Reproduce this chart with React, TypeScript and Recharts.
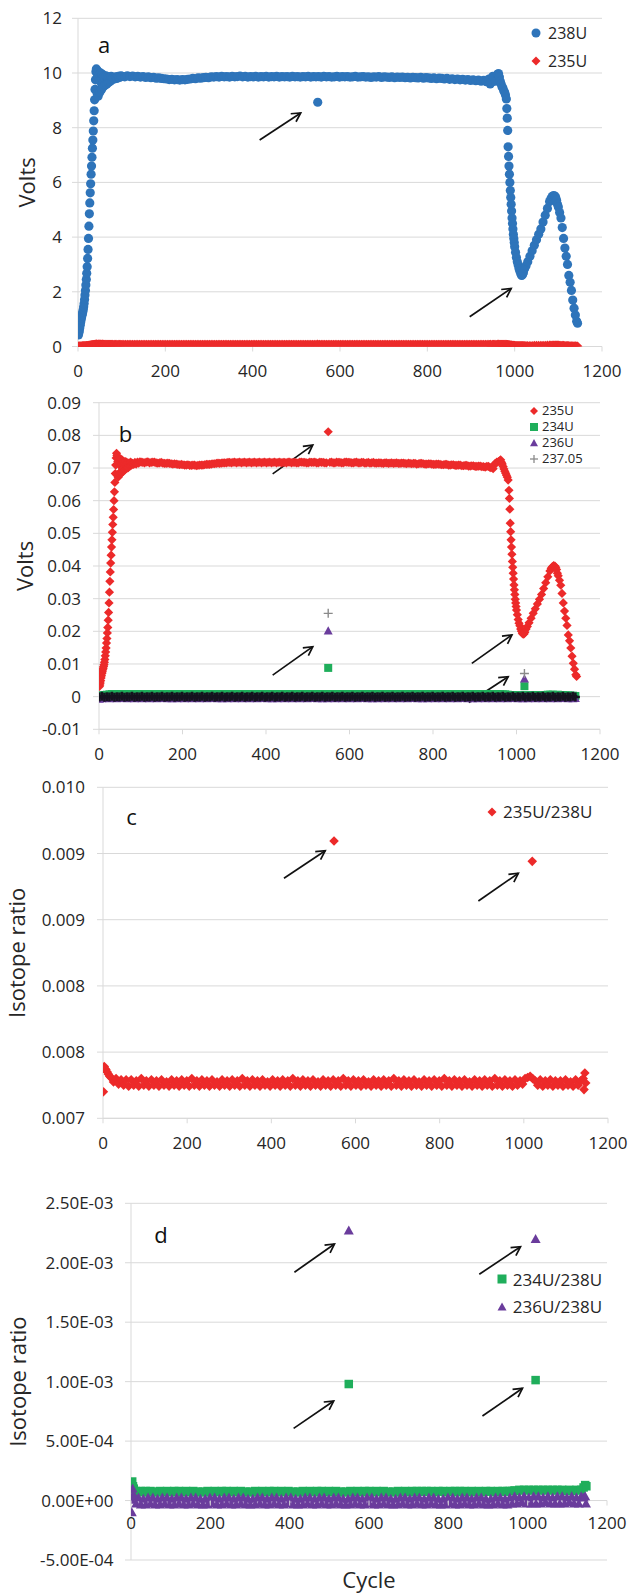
import React from 'react';
import { ScatterChart, Scatter, XAxis, YAxis, CartesianGrid, ReferenceLine, Legend } from 'recharts';

// ---------- data ----------
const X_TICKS = [0, 200, 400, 600, 800, 1000, 1200];
const A_TICKS = [0, 2, 4, 6, 8, 10, 12];
const B_TICKS = [-0.01, 0, 0.01, 0.02, 0.03, 0.04, 0.05, 0.06, 0.07, 0.08, 0.09];
const C_TICKS = [0.007, 0.0076, 0.0082, 0.0088, 0.0094, 0.01];
const D_TICKS = [-0.0005, 0, 0.0005, 0.001, 0.0015, 0.002, 0.0025];

// 238U signal, volts: [cycle, value]
const U238_VOLTS: [number, number][] = [
  [1,0.42],[2,0.5],[3,0.58],[4,0.68],[5,0.78],[6,0.88],[7,0.97],[8,1.05],[9,1.13],[10,1.2],
  [11,1.27],[12,1.35],[13,1.45],[14,1.57],[15,1.72],[16,1.88],[17,2.05],[18,2.25],[19,2.45],[20,2.68],
  [21,2.92],[22,3.22],[23,3.55],[24,3.95],[25,4.4],[26,4.85],[27,5.25],[28,5.62],[29,5.95],[30,6.3],
  [31,6.6],[32,6.92],[33,7.25],[34,7.55],[35,7.88],[36,8.25],[37,8.62],[38,9.02],[39,9.4],[40,9.75],
  [41,10.05],[42,10.15],[43,10.1],[44,9.25],[45,9.9],[46,9.15],[47,10.05],[48,9.35],[49,9.95],[50,9.3],
  [51,9.7],[52,10.0],[53,9.45],[54,9.4],[55,9.8],[56,9.95],[57,9.6],[58,9.5],[59,9.85],[60,9.9],
  [62,9.55],[64,9.9],[66,9.6],[68,9.85],[70,9.65],[72,9.85],[74,9.7],[76,9.88],[78,9.75],[80,9.82],
  [83,9.78],[86,9.86],[89,9.8],[92,9.88],[95,9.84],[98,9.9],
  [101,9.88],[107,9.86],[113,9.9],[119,9.87],[125,9.89],[131,9.86],[137,9.88],[143,9.85],[149,9.87],[155,9.84],
  [161,9.86],[167,9.83],[173,9.84],[179,9.81],[185,9.82],[191,9.8],[197,9.79],[203,9.78],[209,9.76],[215,9.77],
  [221,9.75],[227,9.76],[233,9.74],[239,9.76],[245,9.75],[251,9.77],[257,9.78],[263,9.8],[269,9.79],[275,9.82],
  [281,9.81],[287,9.83],[293,9.84],[299,9.83],[305,9.86],[311,9.85],[317,9.87],[323,9.85],[329,9.88],[335,9.86],
  [341,9.87],[347,9.85],[353,9.88],[359,9.86],[365,9.87],[371,9.89],[377,9.86],[383,9.88],[389,9.85],[395,9.87],
  [401,9.86],[407,9.88],[413,9.85],[419,9.87],[425,9.86],[431,9.88],[437,9.85],[443,9.87],[449,9.86],[455,9.88],
  [461,9.85],[467,9.87],[473,9.86],[479,9.87],[485,9.85],[491,9.88],[497,9.86],[503,9.87],[509,9.85],[515,9.87],
  [521,9.86],[527,9.88],[533,9.85],[539,9.87],[545,9.86],[551,9.87],[557,9.85],[563,9.88],[569,9.86],[575,9.87],
  [581,9.85],[587,9.86],[593,9.88],[599,9.85],[605,9.87],[611,9.86],[617,9.87],[623,9.85],[629,9.86],[635,9.88],
  [641,9.85],[647,9.86],[653,9.87],[659,9.85],[665,9.86],[671,9.84],[677,9.86],[683,9.85],[689,9.87],[695,9.84],
  [701,9.86],[707,9.85],[713,9.84],[719,9.86],[725,9.83],[731,9.85],[737,9.84],[743,9.85],[749,9.83],[755,9.84],
  [761,9.82],[767,9.84],[773,9.83],[779,9.82],[785,9.84],[791,9.81],[797,9.83],[803,9.82],[809,9.8],[815,9.82],
  [821,9.79],[827,9.81],[833,9.8],[839,9.78],[845,9.8],[851,9.77],[857,9.79],[863,9.76],[869,9.78],[875,9.75],
  [881,9.77],[887,9.74],[893,9.76],[899,9.73],[905,9.75],[911,9.72],[917,9.74],[923,9.7],[929,9.73],[935,9.68],
  [941,9.78],[947,9.66],[953,9.84],[959,9.9],
  [944,9.6],[950,9.88],[956,9.7],[961,9.95],[963,9.98],[965,9.85],[967,9.7],[969,9.6],[971,9.5],[973,9.45],
  [975,9.35],[977,9.3],[979,9.2],[981,9.05],[982,8.7],[983,8.35],[984,7.9],[985,7.3],[986,6.95],[987,6.6],
  [988,6.3],[989,6.0],[990,5.7],[991,5.45],[992,5.2],[993,4.95],[994,4.7],[995,4.5],[996,4.3],[997,4.1],
  [998,3.95],[999,3.8],[1000,3.65],[1002,3.45],[1004,3.25],[1006,3.1],[1008,2.98],[1010,2.85],[1012,2.75],[1014,2.66],
  [1016,2.6],[1018,2.62],[1020,2.7],[1023,2.85],[1026,2.95],[1030,3.1],[1035,3.3],[1040,3.5],[1045,3.7],[1050,3.9],
  [1055,4.1],[1060,4.3],[1065,4.55],[1070,4.8],[1075,5.05],[1080,5.3],[1083,5.4],[1086,5.48],[1089,5.52],[1092,5.5],
  [1094,5.45],[1096,5.35],[1098,5.2],[1100,5.1],[1103,4.9],[1106,4.7],[1109,4.35],[1112,3.95],[1115,3.6],[1118,3.3],
  [1121,3.0],[1124,2.6],[1127,2.35],[1130,2.05],[1133,1.7],[1136,1.4],[1139,1.15],[1142,0.92],[1144,0.85],
  [549,8.93],
];

// 235U signal, volts: [cycle, value]
const U235_VOLTS: [number, number][] = [
  [1,0.0031],[2,0.0036],[3,0.0042],[4,0.0049],[5,0.0057],[6,0.0064],[7,0.0071],[8,0.0076],[9,0.0082],[10,0.0087],
  [11,0.0092],[12,0.0098],[13,0.0105],[14,0.0114],[15,0.0125],[16,0.0137],[17,0.0149],[18,0.0164],[19,0.0178],[20,0.0195],
  [21,0.0212],[22,0.0234],[23,0.0258],[24,0.0287],[25,0.032],[26,0.0353],[27,0.0382],[28,0.0409],[29,0.0433],[30,0.0458],
  [31,0.048],[32,0.0503],[33,0.0527],[34,0.0549],[35,0.0573],[36,0.06],[37,0.0627],[38,0.0656],[39,0.0683],[40,0.0709],
  [41,0.0731],[42,0.0745],[43,0.0738],[44,0.0678],[45,0.072],[46,0.0672],[47,0.073],[48,0.0684],[49,0.0725],[50,0.068],
  [51,0.0706],[52,0.0728],[53,0.069],[54,0.0684],[55,0.0713],[56,0.0724],[57,0.0698],[58,0.069],[59,0.0716],[60,0.072],
  [62,0.0694],[64,0.072],[66,0.0698],[68,0.0716],[70,0.0701],[72,0.0716],[74,0.0706],[76,0.0718],[78,0.0709],[80,0.0714],
  [83,0.0711],[86,0.0717],[89,0.0712],[92,0.0718],[95,0.0715],[98,0.0719],
  [101,0.0718],[109,0.0716],[117,0.0719],[125,0.0717],[133,0.0718],[141,0.0715],[149,0.0717],[157,0.0714],[165,0.0715],[173,0.0713],
  [181,0.0713],[189,0.0711],[197,0.0711],[205,0.0709],[213,0.071],[221,0.0708],[229,0.0709],[237,0.0708],[245,0.0709],[253,0.071],
  [261,0.0711],[269,0.0712],[277,0.0713],[285,0.0715],[293,0.0715],[301,0.0716],[309,0.0717],[317,0.0716],[325,0.0718],[333,0.0717],
  [341,0.0716],[349,0.0718],[357,0.0717],[365,0.0716],[373,0.0718],[381,0.0717],[389,0.0716],[397,0.0718],[405,0.0717],[413,0.0716],
  [421,0.0718],[429,0.0717],[437,0.0716],[445,0.0717],[453,0.0718],[461,0.0716],[469,0.0717],[477,0.0716],[485,0.0718],[493,0.0717],
  [501,0.0716],[509,0.0717],[517,0.0718],[525,0.0716],[533,0.0717],[541,0.0716],[557,0.0718],[565,0.0716],[573,0.0717],[581,0.0716],
  [589,0.0718],[597,0.0717],[605,0.0716],[613,0.0717],[621,0.0716],[629,0.0717],[637,0.0715],[645,0.0717],[653,0.0716],[661,0.0715],
  [669,0.0716],[677,0.0715],[685,0.0716],[693,0.0714],[701,0.0716],[709,0.0715],[717,0.0714],[725,0.0715],[733,0.0714],[741,0.0715],
  [749,0.0713],[757,0.0714],[765,0.0713],[773,0.0714],[781,0.0712],[789,0.0713],[797,0.0712],[805,0.0711],[813,0.0712],[821,0.071],
  [829,0.0711],[837,0.0709],[845,0.071],[853,0.0708],[861,0.0709],[869,0.0707],[877,0.0708],[885,0.0706],[893,0.0707],[901,0.0705],
  [909,0.0706],[917,0.0704],[925,0.0703],[933,0.0705],[941,0.0702],[949,0.0714],[957,0.072],
  [105,0.0717],[113,0.0718],[121,0.0716],[129,0.0718],[137,0.0716],[145,0.0716],[153,0.0715],[161,0.0714],[169,0.0714],[177,0.0712],
  [185,0.0712],[193,0.071],[201,0.071],[209,0.0709],[217,0.0708],[225,0.0709],[233,0.0707],[241,0.0709],[249,0.0709],[257,0.0711],
  [265,0.0711],[273,0.0713],[281,0.0714],[289,0.0714],[297,0.0716],[305,0.0716],[313,0.0717],[321,0.0717],[329,0.0716],[337,0.0718],
  [345,0.0717],[353,0.0716],[361,0.0718],[369,0.0717],[377,0.0716],[385,0.0718],[393,0.0717],[401,0.0716],[409,0.0718],[417,0.0717],
  [425,0.0716],[433,0.0718],[441,0.0717],[449,0.0716],[457,0.0718],[465,0.0717],[473,0.0716],[481,0.0718],[489,0.0717],[497,0.0716],
  [505,0.0718],[513,0.0717],[521,0.0716],[529,0.0718],[537,0.0717],[545,0.0716],[553,0.0717],[561,0.0716],[569,0.0718],[577,0.0717],
  [585,0.0716],[593,0.0718],[601,0.0717],[609,0.0716],[617,0.0718],[625,0.0716],[633,0.0717],[641,0.0716],[649,0.0715],[657,0.0717],
  [665,0.0715],[673,0.0716],[681,0.0714],[689,0.0716],[697,0.0715],[705,0.0714],[713,0.0716],[721,0.0714],[729,0.0715],[737,0.0713],
  [745,0.0714],[753,0.0714],[761,0.0712],[769,0.0714],[777,0.0713],[785,0.0712],[793,0.0713],[801,0.0711],[809,0.0712],[817,0.0711],
  [825,0.071],[833,0.0711],[841,0.0709],[849,0.071],[857,0.0708],[865,0.0709],[873,0.0707],[881,0.0708],[889,0.0706],[897,0.0707],
  [905,0.0705],[913,0.0706],[921,0.0704],[929,0.0705],[937,0.0701],[945,0.0708],[953,0.0718],
  [944,0.0698],[952,0.0716],[960,0.0722],[962,0.0725],[964,0.0718],[966,0.0712],[968,0.0705],[970,0.0697],[972,0.069],[974,0.0684],
  [976,0.0678],[978,0.0672],[980,0.0663],[982,0.0632],[983,0.0607],[984,0.0574],[985,0.0531],[986,0.0505],[987,0.048],[988,0.0458],
  [989,0.0436],[990,0.0414],[991,0.0396],[992,0.0378],[993,0.036],[994,0.0342],[995,0.0327],[996,0.0313],[997,0.0298],[998,0.0287],
  [999,0.0276],[1000,0.0265],[1002,0.0251],[1004,0.0236],[1006,0.0225],[1008,0.0217],[1010,0.0207],[1012,0.02],[1014,0.0194],[1016,0.0191],
  [1018,0.0192],[1020,0.0197],[1023,0.0207],[1026,0.0215],[1030,0.0226],[1035,0.024],[1040,0.0255],[1045,0.0269],[1050,0.0284],[1055,0.0298],
  [1060,0.0313],[1065,0.0331],[1070,0.0349],[1075,0.0367],[1080,0.0385],[1083,0.0393],[1086,0.0398],[1089,0.0401],[1092,0.04],[1094,0.0396],
  [1096,0.0389],[1098,0.0378],[1100,0.037],[1103,0.0356],[1106,0.0341],[1109,0.0316],[1112,0.0287],[1115,0.0262],[1118,0.024],[1121,0.0218],
  [1124,0.0189],[1127,0.0171],[1130,0.0149],[1133,0.0124],[1136,0.0102],[1139,0.0084],[1142,0.0067],[1144,0.0062],
  [549,0.0811],
];

// cycles at which the flat, near-constant series are sampled
const BAND_CYCLES = [
  1,7,13,19,25,31,37,43,49,55,
  61,67,73,79,85,91,97,103,109,115,
  121,127,133,139,145,151,157,163,169,175,
  181,187,193,199,205,211,217,223,229,235,
  241,247,253,259,265,271,277,283,289,295,
  301,307,313,319,325,331,337,343,349,355,
  361,367,373,379,385,391,397,403,409,415,
  421,427,433,439,445,451,457,463,469,475,
  481,487,493,499,505,511,517,523,529,535,
  541,547,553,559,565,571,577,583,589,595,
  601,607,613,619,625,631,637,643,649,655,
  661,667,673,679,685,691,697,703,709,715,
  721,727,733,739,745,751,757,763,769,775,
  781,787,793,799,805,811,817,823,829,835,
  841,847,853,859,865,871,877,883,889,895,
  901,907,913,919,925,931,937,943,949,955,
  961,967,973,979,985,991,997,1003,1009,1015,
  1021,1027,1033,1039,1045,1051,1057,1063,1069,1075,
  1081,1087,1093,1099,1105,1111,1117,1123,1129,1135,
  1141,
];

// panel b, near-zero signals (volts) on BAND_CYCLES
const U234_VOLTS = [
  0.0003,0.0004,0.0005,0.0006,0.0007,0.0008,0.0007,0.0008,0.0007,0.0008,
  0.0007,0.0008,0.0007,0.0007,0.0008,0.0007,0.0008,0.0007,0.0008,0.0007,
  0.0008,0.0007,0.0007,0.0008,0.0007,0.0008,0.0007,0.0007,0.0008,0.0007,
  0.0008,0.0007,0.0008,0.0007,0.0007,0.0008,0.0007,0.0008,0.0007,0.0007,
  0.0008,0.0007,0.0008,0.0007,0.0008,0.0007,0.0007,0.0008,0.0007,0.0008,
  0.0007,0.0008,0.0007,0.0008,0.0007,0.0007,0.0008,0.0007,0.0008,0.0007,
  0.0008,0.0007,0.0007,0.0008,0.0007,0.0008,0.0007,0.0008,0.0007,0.0007,
  0.0008,0.0007,0.0008,0.0007,0.0007,0.0008,0.0007,0.0008,0.0007,0.0008,
  0.0007,0.0008,0.0007,0.0008,0.0007,0.0007,0.0008,0.0007,0.0008,0.0007,
  0.0008,0.0007,0.0007,0.0008,0.0007,0.0008,0.0007,0.0008,0.0007,0.0007,
  0.0008,0.0007,0.0008,0.0007,0.0007,0.0008,0.0007,0.0008,0.0007,0.0008,
  0.0007,0.0008,0.0007,0.0008,0.0007,0.0007,0.0008,0.0007,0.0008,0.0007,
  0.0008,0.0007,0.0007,0.0008,0.0007,0.0008,0.0007,0.0008,0.0007,0.0007,
  0.0008,0.0007,0.0008,0.0007,0.0007,0.0008,0.0007,0.0008,0.0007,0.0008,
  0.0007,0.0008,0.0007,0.0008,0.0007,0.0007,0.0008,0.0007,0.0008,0.0007,
  0.0008,0.0007,0.0007,0.0008,0.0007,0.0008,0.0007,0.0008,0.0007,0.0008,
  0.0008,0.0007,0.0007,0.0006,0.0005,0.0005,0.0004,0.0004,0.0004,0.0004,
  0.0004,0.0004,0.0004,0.0005,0.0004,0.0005,0.0005,0.0005,0.0005,0.0006,
  0.0006,0.0006,0.0005,0.0006,0.0005,0.0005,0.0004,0.0004,0.0003,0.0003,
  0.0002,
];
const U236_VOLTS = [
  -0.0006,-0.0005,-0.0003,-0.0004,-0.0005,-0.0003,-0.0004,-0.0005,-0.0004,-0.0003,
  -0.0004,-0.0005,-0.0003,-0.0004,-0.0005,-0.0003,-0.0004,-0.0005,-0.0004,-0.0003,
  -0.0005,-0.0004,-0.0003,-0.0005,-0.0004,-0.0004,-0.0003,-0.0005,-0.0004,-0.0005,
  -0.0004,-0.0005,-0.0003,-0.0004,-0.0005,-0.0003,-0.0004,-0.0005,-0.0004,-0.0003,
  -0.0005,-0.0004,-0.0003,-0.0005,-0.0004,-0.0004,-0.0003,-0.0005,-0.0004,-0.0005,
  -0.0004,-0.0005,-0.0003,-0.0004,-0.0005,-0.0003,-0.0004,-0.0005,-0.0004,-0.0003,
  -0.0005,-0.0004,-0.0003,-0.0005,-0.0004,-0.0004,-0.0003,-0.0005,-0.0004,-0.0005,
  -0.0004,-0.0005,-0.0003,-0.0004,-0.0005,-0.0003,-0.0004,-0.0005,-0.0004,-0.0003,
  -0.0005,-0.0004,-0.0003,-0.0005,-0.0004,-0.0004,-0.0003,-0.0005,-0.0004,-0.0005,
  -0.0004,-0.0005,-0.0003,-0.0004,-0.0005,-0.0003,-0.0004,-0.0005,-0.0004,-0.0003,
  -0.0005,-0.0004,-0.0003,-0.0005,-0.0004,-0.0004,-0.0003,-0.0005,-0.0004,-0.0005,
  -0.0004,-0.0005,-0.0003,-0.0004,-0.0005,-0.0003,-0.0004,-0.0005,-0.0004,-0.0003,
  -0.0005,-0.0004,-0.0003,-0.0005,-0.0004,-0.0004,-0.0003,-0.0005,-0.0004,-0.0005,
  -0.0004,-0.0005,-0.0003,-0.0004,-0.0005,-0.0003,-0.0004,-0.0005,-0.0004,-0.0003,
  -0.0005,-0.0004,-0.0003,-0.0005,-0.0004,-0.0004,-0.0003,-0.0005,-0.0004,-0.0005,
  -0.0004,-0.0005,-0.0003,-0.0004,-0.0005,-0.0003,-0.0004,-0.0005,-0.0004,-0.0003,
  -0.0005,-0.0004,-0.0003,-0.0005,-0.0004,-0.0004,-0.0003,-0.0005,-0.0004,-0.0005,
  -0.0004,-0.0005,-0.0003,-0.0004,-0.0005,-0.0003,-0.0004,-0.0005,-0.0004,-0.0003,
  -0.0005,-0.0004,-0.0003,-0.0005,-0.0004,-0.0004,-0.0003,-0.0005,-0.0004,-0.0005,
  -0.0004,
];
const M23705_VOLTS = [
  -0.0001,0.0001,-0.0002,0,-0.0001,0.0001,-0.0002,0,-0.0001,0.0001,
  -0.0002,0,-0.0001,0.0001,-0.0002,0,-0.0001,0.0001,-0.0002,0,
  -0.0001,0.0001,-0.0002,0,-0.0001,0.0001,-0.0002,0,-0.0001,0.0001,
  -0.0002,0,-0.0001,0.0001,-0.0002,0,-0.0001,0.0001,-0.0002,0,
  -0.0001,0.0001,-0.0002,0,-0.0001,0.0001,-0.0002,0,-0.0001,0.0001,
  -0.0002,0,-0.0001,0.0001,-0.0002,0,-0.0001,0.0001,-0.0002,0,
  -0.0001,0.0001,-0.0002,0,-0.0001,0.0001,-0.0002,0,-0.0001,0.0001,
  -0.0002,0,-0.0001,0.0001,-0.0002,0,-0.0001,0.0001,-0.0002,0,
  -0.0001,0.0001,-0.0002,0,-0.0001,0.0001,-0.0002,0,-0.0001,0.0001,
  -0.0002,0,-0.0001,0.0001,-0.0002,0,-0.0001,0.0001,-0.0002,0,
  -0.0001,0.0001,-0.0002,0,-0.0001,0.0001,-0.0002,0,-0.0001,0.0001,
  -0.0002,0,-0.0001,0.0001,-0.0002,0,-0.0001,0.0001,-0.0002,0,
  -0.0001,0.0001,-0.0002,0,-0.0001,0.0001,-0.0002,0,-0.0001,0.0001,
  -0.0002,0,-0.0001,0.0001,-0.0002,0,-0.0001,0.0001,-0.0002,0,
  -0.0001,0.0001,-0.0002,0,-0.0001,0.0001,-0.0002,0,-0.0001,0.0001,
  -0.0002,0,-0.0001,0.0001,-0.0002,0,-0.0001,0.0001,-0.0002,0,
  -0.0001,0.0001,-0.0002,0,-0.0001,0.0001,-0.0002,0,-0.0001,0.0001,
  -0.0002,0,-0.0001,0.0001,-0.0002,0,-0.0001,0.0001,-0.0002,0,
  -0.0001,0.0001,-0.0002,0,-0.0001,0.0001,-0.0002,0,-0.0001,0.0001,
  -0.0001,
];
const U234_VOLTS_SPIKES: [number, number][] = [[549, 0.0088], [1019, 0.0032]];
const U236_VOLTS_SPIKES: [number, number][] = [[549, 0.0203], [1019, 0.0056]];
const M23705_VOLTS_SPIKES: [number, number][] = [[549, 0.0255], [1019, 0.0071]];

// panel c, 235U/238U on BAND_CYCLES plus extra readings
const R235_238 = [
  0.00724,0.00744,0.0074,0.00737,0.00733,0.00736,0.00731,0.00735,0.0073,0.00735,
  0.00729,0.00735,0.0073,0.00734,0.00729,0.00736,0.0073,0.00734,0.00729,0.00735,
  0.0073,0.00734,0.00729,0.00735,0.0073,0.00733,0.00729,0.00735,0.0073,0.00734,
  0.00729,0.00735,0.0073,0.00734,0.00729,0.00736,0.0073,0.00734,0.00729,0.00735,
  0.0073,0.00734,0.00729,0.00735,0.0073,0.00733,0.00729,0.00735,0.0073,0.00734,
  0.00729,0.00735,0.0073,0.00734,0.00729,0.00736,0.0073,0.00734,0.00729,0.00735,
  0.0073,0.00734,0.00729,0.00735,0.0073,0.00733,0.00729,0.00735,0.0073,0.00734,
  0.00729,0.00735,0.0073,0.00734,0.00729,0.00736,0.0073,0.00734,0.00729,0.00735,
  0.0073,0.00734,0.00729,0.00735,0.0073,0.00733,0.00729,0.00735,0.0073,0.00734,
  0.00729,0.00735,0.0073,0.00734,0.00729,0.00736,0.0073,0.00734,0.00729,0.00735,
  0.0073,0.00734,0.00729,0.00735,0.0073,0.00733,0.00729,0.00735,0.0073,0.00734,
  0.00729,0.00735,0.0073,0.00734,0.00729,0.00736,0.0073,0.00734,0.00729,0.00735,
  0.0073,0.00734,0.00729,0.00735,0.0073,0.00733,0.00729,0.00735,0.0073,0.00734,
  0.00729,0.00735,0.0073,0.00734,0.00729,0.00736,0.0073,0.00734,0.00729,0.00735,
  0.0073,0.00734,0.00729,0.00735,0.0073,0.00733,0.00729,0.00735,0.0073,0.00734,
  0.00729,0.00735,0.0073,0.00734,0.00729,0.00736,0.0073,0.00734,0.00729,0.00735,
  0.0073,0.00734,0.00729,0.00735,0.0073,0.00734,0.00731,0.00736,0.00737,0.00738,
  0.00736,0.00734,0.0073,0.00735,0.00729,0.00734,0.0073,0.00735,0.00729,0.00734,
  0.0073,0.00734,0.00729,0.00735,0.0073,0.00733,0.00729,0.00735,0.0073,0.00734,
  0.00736,
];
const R235_238_EXTRA: [number, number][] = [
  [3,0.00747],[5,0.00745],[10,0.00742],[16,0.00738],[1143,0.00726],[1145,0.00741],[1147,0.00732],
  [549,0.009513],[1020,0.009329],
];

// panel d, 234U/238U and 236U/238U on BAND_CYCLES plus extra readings
const R234_238 = [
  1.4e-4,1e-4,8e-5,7.5e-5,8e-5,7e-5,8e-5,7e-5,8e-5,7e-5,
  7.5e-5,7e-5,8e-5,7e-5,7.5e-5,8e-5,7e-5,7.5e-5,8e-5,7e-5,
  8e-5,7e-5,7.5e-5,8e-5,7e-5,7.5e-5,8e-5,7e-5,7.5e-5,7e-5,
  7.5e-5,7e-5,8e-5,7e-5,7.5e-5,8e-5,7e-5,7.5e-5,8e-5,7e-5,
  8e-5,7e-5,7.5e-5,8e-5,7e-5,7.5e-5,8e-5,7e-5,7.5e-5,7e-5,
  7.5e-5,7e-5,8e-5,7e-5,7.5e-5,8e-5,7e-5,7.5e-5,8e-5,7e-5,
  8e-5,7e-5,7.5e-5,8e-5,7e-5,7.5e-5,8e-5,7e-5,7.5e-5,7e-5,
  7.5e-5,7e-5,8e-5,7e-5,7.5e-5,8e-5,7e-5,7.5e-5,8e-5,7e-5,
  8e-5,7e-5,7.5e-5,8e-5,7e-5,7.5e-5,8e-5,7e-5,7.5e-5,7e-5,
  7.5e-5,7e-5,8e-5,7e-5,7.5e-5,8e-5,7e-5,7.5e-5,8e-5,7e-5,
  8e-5,7e-5,7.5e-5,8e-5,7e-5,7.5e-5,8e-5,7e-5,7.5e-5,7e-5,
  7.5e-5,7e-5,8e-5,7e-5,7.5e-5,8e-5,7e-5,7.5e-5,8e-5,7e-5,
  8e-5,7.5e-5,8e-5,7.5e-5,8e-5,7.5e-5,8e-5,7e-5,7.5e-5,8e-5,
  7.5e-5,8e-5,7e-5,7.5e-5,8e-5,7.5e-5,8e-5,7e-5,8e-5,7.5e-5,
  8e-5,7e-5,7.5e-5,8e-5,7e-5,7.5e-5,8e-5,7e-5,7.5e-5,8e-5,
  7.5e-5,8e-5,7e-5,7.5e-5,8e-5,7.5e-5,8e-5,7.5e-5,8e-5,8e-5,
  8e-5,8.5e-5,8e-5,9e-5,8.5e-5,9e-5,8.5e-5,9e-5,8.5e-5,9e-5,
  8.5e-5,9e-5,8.5e-5,9e-5,8.5e-5,9e-5,8.5e-5,9e-5,8.5e-5,9e-5,
  8.5e-5,9e-5,8.5e-5,8e-5,9e-5,8.5e-5,8e-5,9e-5,8.5e-5,9e-5,
  1.1e-4,
];
const R234_238_EXTRA: [number, number][] = [
  [3,1.6e-4],[5,1.2e-4],[1145,1.3e-4],[1148,1.2e-4],
  [549,0.00098],[1020,0.001013],
];
const R236_238 = [
  1e-5,4e-5,-2e-5,3e-5,-3e-5,2e-5,-3e-5,3e-5,-2e-5,3e-5,
  -3e-5,2e-5,-3e-5,3e-5,-2e-5,3e-5,-3e-5,2e-5,-3e-5,3e-5,
  -2e-5,3e-5,-3e-5,2e-5,-3e-5,3e-5,-2e-5,3e-5,-3e-5,2e-5,
  -3e-5,2e-5,-3e-5,3e-5,-2e-5,3e-5,-3e-5,2e-5,-3e-5,3e-5,
  -2e-5,3e-5,-3e-5,2e-5,-3e-5,3e-5,-2e-5,3e-5,-3e-5,2e-5,
  -3e-5,2e-5,-3e-5,3e-5,-2e-5,3e-5,-3e-5,2e-5,-3e-5,3e-5,
  -2e-5,3e-5,-3e-5,2e-5,-3e-5,3e-5,-2e-5,3e-5,-3e-5,2e-5,
  -3e-5,2e-5,-3e-5,3e-5,-2e-5,3e-5,-3e-5,2e-5,-3e-5,3e-5,
  -2e-5,3e-5,-3e-5,2e-5,-3e-5,3e-5,-2e-5,3e-5,-3e-5,2e-5,
  -3e-5,2e-5,-3e-5,3e-5,-2e-5,3e-5,-3e-5,2e-5,-3e-5,3e-5,
  -2e-5,3e-5,-3e-5,2e-5,-3e-5,3e-5,-2e-5,3e-5,-3e-5,2e-5,
  -3e-5,2e-5,-3e-5,3e-5,-2e-5,3e-5,-3e-5,2e-5,-3e-5,3e-5,
  -2e-5,3e-5,-3e-5,2e-5,-3e-5,3e-5,-2e-5,3e-5,-3e-5,2e-5,
  -3e-5,2e-5,-3e-5,3e-5,-2e-5,3e-5,-3e-5,2e-5,-3e-5,3e-5,
  -2e-5,3e-5,-3e-5,2e-5,-3e-5,3e-5,-2e-5,3e-5,-3e-5,2e-5,
  -3e-5,2e-5,-3e-5,3e-5,-2e-5,3e-5,-3e-5,2e-5,-3e-5,3e-5,
  -2e-5,4e-5,-2e-5,3e-5,-1e-5,4e-5,-2e-5,3e-5,-2e-5,4e-5,
  -2e-5,4e-5,-2e-5,3e-5,-1e-5,4e-5,-2e-5,3e-5,-2e-5,4e-5,
  -2e-5,4e-5,-2e-5,3e-5,-1e-5,4e-5,-2e-5,3e-5,-2e-5,4e-5,
  3e-5,
];
const R236_238_EXTRA: [number, number][] = [
  [2,-9.5e-5],[4,1.05e-4],[6,6e-5],[1145,4e-5],[1147,-2e-5],
  [549,0.002275],[1020,0.002205],
];

// annotation arrows, data coordinates [x1, y1, x2, y2]
const ARROWS_A = [[416,7.55,510,8.54],[897,1.09,992,2.12]];
const ARROWS_B = [[416,0.0682,512,0.077],[416,0.0066,512,0.0153],[893,0.0102,989,0.0189],[886,-0.0018,980,0.0061]];
const ARROWS_C = [[430,0.009175,528,0.009425],[892,0.00897,987,0.009221]];
const ARROWS_D = [[412,0.00192,513,0.002158],[878,0.001903,982,0.002135],[410,0.000607,511,0.000837],[886,0.000711,987,0.000944]];

// ---------- styling ----------
const FONT = '"Open Sans", "DejaVu Sans", sans-serif';
const TEXT = '#262626';
const GRID = '#d9d9d9';
const BLUE = '#2E74BA';
const RED = '#EC2A2A';
const GREEN = '#1FAE5B';
const PURPLE = '#6A3C9C';
const GRAY = '#8a8a8a';
const DARK = '#15131f';
const TICK = { fontSize: 17, fontFamily: FONT, fill: TEXT };

const pairsToPts = (pairs: [number, number][]) => pairs.map(([x, y]) => ({ x, y }));
const zipPts = (xs: number[], ys: number[]) => xs.map((x, i) => ({ x, y: ys[i] }));

const cxy = (p: any) => ({
  cx: p.cx != null ? p.cx : p.x + (p.width || 0) / 2,
  cy: p.cy != null ? p.cy : p.y + (p.height || 0) / 2,
});

const circleShape = (color: string, r: number) => (p: any) => {
  const { cx, cy } = cxy(p);
  return <circle cx={cx} cy={cy} r={r} fill={color} />;
};
const diamondShape = (color: string, h: number) => (p: any) => {
  const { cx, cy } = cxy(p);
  return <path d={`M${cx},${cy - h}L${cx + h},${cy}L${cx},${cy + h}L${cx - h},${cy}Z`} fill={color} />;
};
const squareShape = (color: string, s: number) => (p: any) => {
  const { cx, cy } = cxy(p);
  return <rect x={cx - s / 2} y={cy - s / 2} width={s} height={s} fill={color} />;
};
const triangleShape = (color: string, s: number) => (p: any) => {
  const { cx, cy } = cxy(p);
  const h = s * 0.9;
  return <path d={`M${cx},${cy - h / 2}L${cx + s / 2},${cy + h / 2}L${cx - s / 2},${cy + h / 2}Z`} fill={color} />;
};
const plusShape = (p: any) => {
  const { cx, cy } = cxy(p);
  const v = p.payload ? p.payload.y : p.y;
  const nearZero = Math.abs(v) < 0.002;
  const a = 4.5;
  const col = nearZero ? DARK : GRAY;
  const w = nearZero ? 2.6 : 1.4;
  return (
    <g>
      <line x1={cx - a} x2={cx + a} y1={cy} y2={cy} stroke={col} strokeWidth={w} />
      <line x1={cx} x2={cx} y1={cy - a} y2={cy + a} stroke={col} strokeWidth={w} />
    </g>
  );
};

function ArrowShape(props: any) {
  const { x1, y1, x2, y2 } = props;
  if ([x1, y1, x2, y2].some((v) => typeof v !== 'number' || isNaN(v))) return <g />;
  const ang = Math.atan2(y2 - y1, x2 - x1);
  const L = 10;
  const s = 0.5;
  const ax = x2 - L * Math.cos(ang - s);
  const ay = y2 - L * Math.sin(ang - s);
  const bx = x2 - L * Math.cos(ang + s);
  const by = y2 - L * Math.sin(ang + s);
  return (
    <g>
      <line x1={x1} y1={y1} x2={x2} y2={y2} stroke="#111" strokeWidth={1.7} />
      <polyline points={`${ax},${ay} ${x2},${y2} ${bx},${by}`} fill="none" stroke="#111" strokeWidth={1.7} />
    </g>
  );
}

type LegendItem = { name: string; kind: string; color: string };
function LegendSymbol({ kind, color, size }: { kind: string; color: string; size: number }) {
  const c = 6;
  const h = size / 2;
  let el: React.ReactNode = null;
  if (kind === 'circle') el = <circle cx={c} cy={c} r={h} fill={color} />;
  if (kind === 'diamond') el = <path d={`M${c},${c - h}L${c + h},${c}L${c},${c + h}L${c - h},${c}Z`} fill={color} />;
  if (kind === 'square') el = <rect x={c - h} y={c - h} width={size} height={size} fill={color} />;
  if (kind === 'triangle') el = <path d={`M${c},${c - h}L${c + h},${c + h * 0.8}L${c - h},${c + h * 0.8}Z`} fill={color} />;
  if (kind === 'plus')
    el = (
      <g stroke={color} strokeWidth={1.3}>
        <line x1={c - h} x2={c + h} y1={c} y2={c} />
        <line x1={c} x2={c} y1={c - h} y2={c + h} />
      </g>
    );
  return (
    <svg width={12} height={12} style={{ display: 'block' }}>
      {el}
    </svg>
  );
}
function legendContent(items: LegendItem[], fontSize: number, rowH: number, gap: number, sym: number) {
  return () => (
    <div style={{ fontFamily: FONT, fontSize, color: TEXT }}>
      {items.map((it) => (
        <div key={it.name} style={{ display: 'flex', alignItems: 'center', height: rowH, whiteSpace: 'nowrap' }}>
          <LegendSymbol kind={it.kind} color={it.color} size={sym} />
          <span style={{ marginLeft: gap, lineHeight: 1 }}>{it.name}</span>
        </div>
      ))}
    </div>
  );
}

const fmtB = (v: number) => (Math.abs(v) < 1e-12 ? '0' : v.toFixed(2));
const fmtC = (v: number) => v.toFixed(3);
const fmtD = (v: number) => {
  if (Math.abs(v) < 1e-12) return '0.00E+00';
  const [m, e] = v.toExponential(2).split('e');
  const ei = parseInt(e, 10);
  return `${m}E${ei < 0 ? '-' : '+'}${String(Math.abs(ei)).padStart(2, '0')}`;
};

const yLabel = (value: string, offset: number) => ({
  value,
  angle: -90,
  position: 'insideLeft' as const,
  offset,
  style: { textAnchor: 'middle', fontSize: 22, fontFamily: FONT, fill: TEXT },
});

const arrowLines = (list: number[][], key: string) =>
  list.map((a, i) => (
    <ReferenceLine
      key={`${key}${i}`}
      segment={[{ x: a[0], y: a[1] }, { x: a[2], y: a[3] }]}
      shape={ArrowShape}
      ifOverflow="visible"
    />
  ));

// panel d geometry: x labels sit on the zero line
const D_H = 425;
const D_MARGIN = { top: 33.3, right: 23, bottom: 0, left: 0 };
const D_XH = 35;
const D_DOMAIN = [-0.0005, 0.0025];
const D_PLOT_H = D_H - D_MARGIN.top - D_MARGIN.bottom - D_XH;
const D_SHIFT = (D_PLOT_H * (0 - D_DOMAIN[0])) / (D_DOMAIN[1] - D_DOMAIN[0]);
function DXTick(props: any) {
  const { x, y, payload } = props;
  const y0 = y - D_SHIFT;
  return (
    <g>
      <line x1={x} x2={x} y1={y0} y2={y0 + 5} stroke={GRID} />
      <text x={x} y={y0 + 16.5} dy="0.71em" textAnchor="middle" fontSize={17} fontFamily={FONT} fill={TEXT}>
        {payload.value}
      </text>
    </g>
  );
}

const panelLetter = (ch: string, left: number, top: number) => (
  <div
    style={{
      position: 'absolute',
      left,
      top,
      transform: 'translateX(-50%)',
      fontFamily: FONT,
      fontSize: 22,
      lineHeight: 1,
      color: '#111',
    }}
  >
    {ch}
  </div>
);

export default function App() {
  const u238 = pairsToPts(U238_VOLTS);
  const u235 = pairsToPts(U235_VOLTS);
  const u234 = [...zipPts(BAND_CYCLES, U234_VOLTS), ...pairsToPts(U234_VOLTS_SPIKES)];
  const u236 = [...zipPts(BAND_CYCLES, U236_VOLTS), ...pairsToPts(U236_VOLTS_SPIKES)];
  const m237 = [...zipPts(BAND_CYCLES, M23705_VOLTS), ...pairsToPts(M23705_VOLTS_SPIKES)];
  const r235 = [...zipPts(BAND_CYCLES, R235_238), ...pairsToPts(R235_238_EXTRA)];
  const r234 = [...zipPts(BAND_CYCLES, R234_238), ...pairsToPts(R234_238_EXTRA)];
  const r236 = [...zipPts(BAND_CYCLES, R236_238), ...pairsToPts(R236_238_EXTRA)];

  const xAxisCommon = {
    type: 'number' as const,
    dataKey: 'x',
    domain: [0, 1200],
    ticks: X_TICKS,
    interval: 0 as const,
    allowDataOverflow: true,
  };

  return (
    <div style={{ position: 'absolute', left: 0, top: 0, width: 630, height: 1595, background: '#fff', overflow: 'hidden' }}>
      {/* panel a */}
      <div style={{ position: 'absolute', left: 0, top: 0 }}>
        <ScatterChart width={630} height={385} margin={{ top: 18.3, right: 28, bottom: 8.5, left: 0 }}>
          <CartesianGrid vertical={false} stroke={GRID} />
          <XAxis {...xAxisCommon} height={30} axisLine={{ stroke: GRID }} tickLine={{ stroke: GRID }} tickSize={5} tickMargin={13.5} tick={TICK} />
          <YAxis type="number" dataKey="y" domain={[0, 12]} ticks={A_TICKS} interval={0} width={78} axisLine={{ stroke: GRID }} tickLine={{ stroke: GRID }} tickSize={6} tickMargin={10} tick={TICK} label={yLabel('Volts', 27)} allowDataOverflow />
          <Scatter name="238U" data={u238} shape={circleShape(BLUE, 4.6)} isAnimationActive={false} />
          <Scatter name="235U" data={u235} shape={diamondShape(RED, 4.9)} isAnimationActive={false} />
          {arrowLines(ARROWS_A, 'a')}
          <Legend
            layout="vertical"
            align="center"
            verticalAlign="middle"
            wrapperStyle={{ left: 530, top: 19 }}
            content={legendContent(
              [
                { name: '238U', kind: 'circle', color: BLUE },
                { name: '235U', kind: 'diamond', color: RED },
              ],
              16,
              28,
              6,
              9
            )}
          />
        </ScatterChart>
      </div>

      {/* panel b */}
      <div style={{ position: 'absolute', left: 0, top: 385 }}>
        <ScatterChart width={630} height={385} margin={{ top: 17.7, right: 30, bottom: 10.7, left: 0 }}>
          <CartesianGrid vertical={false} stroke={GRID} />
          <XAxis {...xAxisCommon} height={30} axisLine={{ stroke: GRID }} tickLine={{ stroke: GRID }} tickSize={5} tickMargin={14} tick={TICK} />
          <YAxis type="number" dataKey="y" domain={[-0.01, 0.09]} ticks={B_TICKS} interval={0} width={99} axisLine={{ stroke: GRID }} tickLine={{ stroke: GRID }} tickSize={6} tickMargin={12} tick={TICK} tickFormatter={fmtB} label={yLabel('Volts', 25)} allowDataOverflow />
          <Scatter name="235U" data={u235} shape={diamondShape(RED, 4.6)} isAnimationActive={false} />
          <Scatter name="234U" data={u234} shape={squareShape(GREEN, 8)} isAnimationActive={false} />
          <Scatter name="236U" data={u236} shape={triangleShape(PURPLE, 9)} isAnimationActive={false} />
          <Scatter name="237.05" data={m237} shape={plusShape} isAnimationActive={false} />
          {arrowLines(ARROWS_B, 'b')}
          <Legend
            layout="vertical"
            align="center"
            verticalAlign="middle"
            wrapperStyle={{ left: 528, top: 17.7 }}
            content={legendContent(
              [
                { name: '235U', kind: 'diamond', color: RED },
                { name: '234U', kind: 'square', color: GREEN },
                { name: '236U', kind: 'triangle', color: PURPLE },
                { name: '237.05', kind: 'plus', color: GRAY },
              ],
              13,
              16,
              2,
              8
            )}
          />
        </ScatterChart>
      </div>

      {/* panel c */}
      <div style={{ position: 'absolute', left: 0, top: 770 }}>
        <ScatterChart width={630} height={400} margin={{ top: 17.3, right: 22, bottom: 21.7, left: 0 }}>
          <CartesianGrid vertical={false} stroke={GRID} />
          <XAxis {...xAxisCommon} height={30} axisLine={{ stroke: GRID }} tickLine={{ stroke: GRID }} tickSize={5} tickMargin={14} tick={TICK} />
          <YAxis type="number" dataKey="y" domain={[0.007, 0.01]} ticks={C_TICKS} interval={0} width={103} axisLine={{ stroke: GRID }} tickLine={{ stroke: GRID }} tickSize={6} tickMargin={12} tick={TICK} tickFormatter={fmtC} label={yLabel('Isotope ratio', 17.5)} allowDataOverflow />
          <Scatter name="235U/238U" data={r235} shape={diamondShape(RED, 4.8)} isAnimationActive={false} />
          {arrowLines(ARROWS_C, 'c')}
          <Legend
            layout="vertical"
            align="center"
            verticalAlign="middle"
            wrapperStyle={{ left: 486, top: 27.7 }}
            content={legendContent([{ name: '235U/238U', kind: 'diamond', color: RED }], 17, 28, 5, 9)}
          />
        </ScatterChart>
      </div>

      {/* panel d */}
      <div style={{ position: 'absolute', left: 0, top: 1170 }}>
        <ScatterChart width={630} height={D_H} margin={D_MARGIN}>
          <CartesianGrid vertical={false} stroke={GRID} />
          <XAxis
            {...xAxisCommon}
            height={D_XH}
            axisLine={false}
            tickLine={false}
            tickSize={0}
            tickMargin={0}
            tick={<DXTick />}
            label={{ value: 'Cycle', position: 'insideBottom', offset: 7, style: { fontSize: 22, fontFamily: FONT, fill: TEXT } }}
          />
          <YAxis type="number" dataKey="y" domain={D_DOMAIN} ticks={D_TICKS} interval={0} width={131} axisLine={{ stroke: GRID }} tickLine={{ stroke: GRID }} tickSize={6} tickMargin={11.5} tick={TICK} tickFormatter={fmtD} label={yLabel('Isotope ratio', 18)} allowDataOverflow />
          <Scatter name="234U/238U" data={r234} shape={squareShape(GREEN, 8.5)} isAnimationActive={false} />
          <Scatter name="236U/238U" data={r236} shape={triangleShape(PURPLE, 10)} isAnimationActive={false} />
          {arrowLines(ARROWS_D, 'd')}
          <Legend
            layout="vertical"
            align="center"
            verticalAlign="middle"
            wrapperStyle={{ left: 495.8, top: 95.2 }}
            content={legendContent(
              [
                { name: '234U/238U', kind: 'square', color: GREEN },
                { name: '236U/238U', kind: 'triangle', color: PURPLE },
              ],
              17,
              27.7,
              5,
              9
            )}
          />
        </ScatterChart>
      </div>

      {panelLetter('a', 104, 33.4)}
      {panelLetter('b', 125.6, 421.9)}
      {panelLetter('c', 131.6, 805.4)}
      {panelLetter('d', 161, 1223)}
    </div>
  );
}
